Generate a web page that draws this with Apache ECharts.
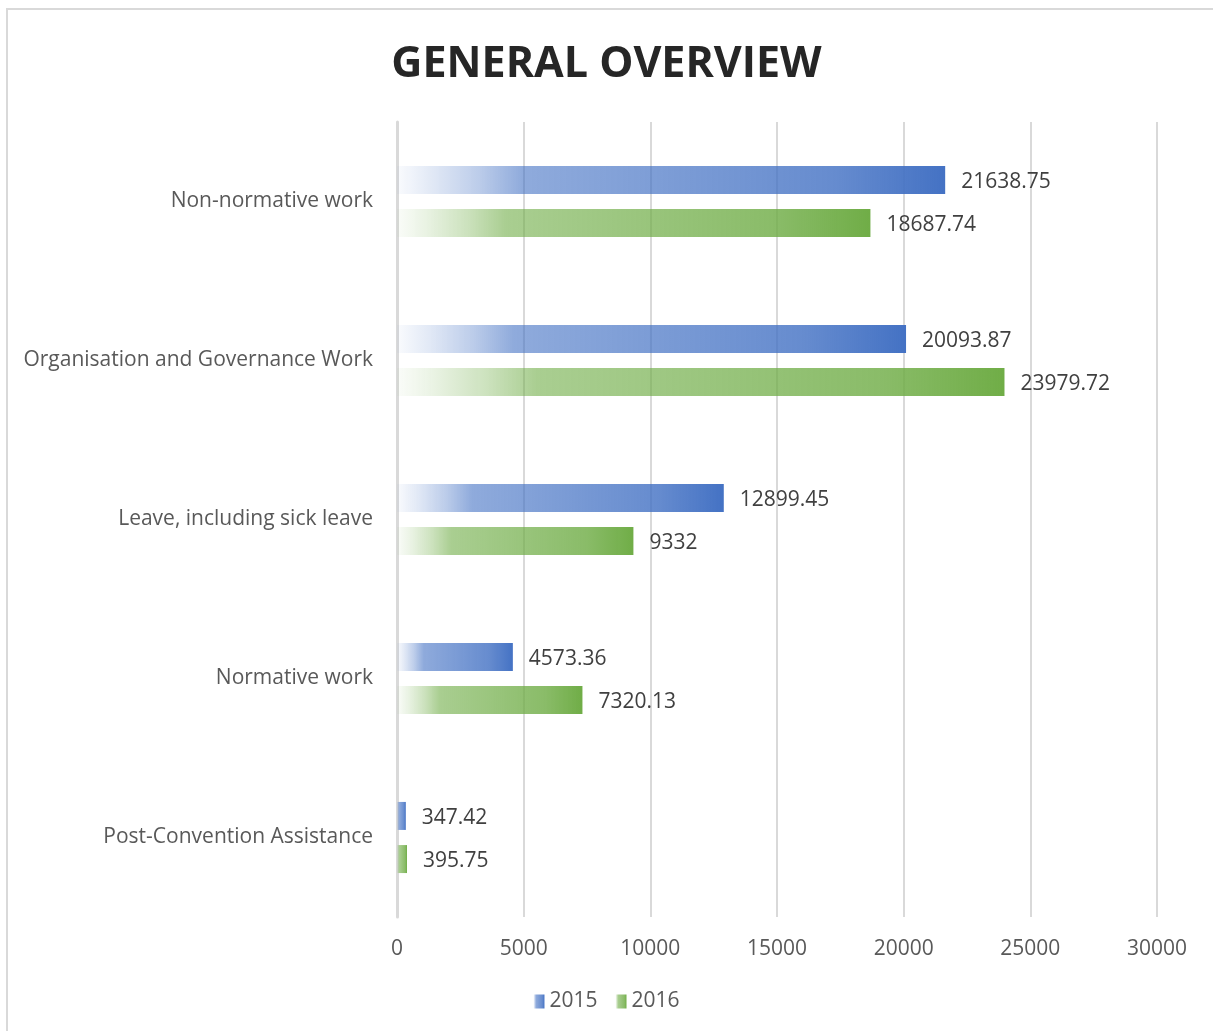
<!DOCTYPE html>
<html>
<head>
<meta charset="utf-8">
<script src="https://cdn.jsdelivr.net/npm/echarts@6/dist/echarts.min.js"></script>
<style>html,body{margin:0;padding:0;background:#fff;}#c{width:1213px;height:1031px;}</style>
</head>
<body>
<div id="c"></div>
<script>
const categories = ['Non-normative work','Organisation and Governance Work','Leave, including sick leave','Normative work','Post-Convention Assistance'];
const seriesNames = ['2015','2016'];
const values2015 = [21638.75, 20093.87, 12899.45, 4573.36, 347.42];
const values2016 = [18687.74, 23979.72, 9332, 7320.13, 395.75];
const xTicks = {min: 0, max: 30000, interval: 5000};

function grad(r,g,b){
  const a = [[0,0.03],[0.06,0.15],[0.15,0.36],[0.23,0.6],[0.5,0.7],[0.8,0.82],[1,1]];
  return new echarts.graphic.LinearGradient(0,0,1,0,a.map(s=>({offset:s[0],color:`rgba(${r},${g},${b},${s[1]})`})));
}
const FONT = 'Open Sans';
const FS = 21;
const chart = echarts.init(document.getElementById('c'));
const labelStyle = {show:true, position:'right', distance:16, offset:[0,2], color:'#404040', fontSize:FS, fontFamily:FONT};
chart.setOption({
  animation:false,
  graphic:[{type:'rect', shape:{x:7,y:9,width:1240,height:1060}, style:{fill:'none', stroke:'#d9d9d9', lineWidth:2}, silent:true}],
  title:{text:'GENERAL OVERVIEW', left:'center', top:38, textStyle:{fontFamily:'Open Sans', fontWeight:'bold', fontSize:43, color:'#262626'}},
  legend:{bottom:14, left:'center', itemWidth:11, itemHeight:14, itemGap:18, icon:'rect',
    textStyle:{fontFamily:FONT, fontSize:FS, color:'#595959'}, data:seriesNames},
  grid:{left:397, right:56, top:122, bottom:114, containLabel:false},
  xAxis:{type:'value', min:xTicks.min, max:xTicks.max, interval:xTicks.interval,
    axisLine:{show:false}, axisTick:{show:false},
    axisLabel:{color:'#595959', fontSize:FS, fontFamily:FONT, margin:22, formatter:v=>String(v)},
    splitLine:{lineStyle:{color:'#d9d9d9', width:2}}},
  yAxis:{type:'category', inverse:true, data:categories,
    axisLine:{lineStyle:{color:'#d9d9d9', width:3}}, axisTick:{show:false},
    axisLabel:{color:'#595959', fontSize:FS, fontFamily:FONT, margin:24, padding:[2,0,0,0]}},
  series:[
    {name:seriesNames[0], type:'bar', data:values2015, barWidth:28, barGap:'54%', itemStyle:{color:grad(68,114,196)}, label:labelStyle},
    {name:seriesNames[1], type:'bar', data:values2016, barWidth:28, barGap:'54%', itemStyle:{color:grad(112,173,71)}, label:labelStyle}
  ]
});
</script>
</body>
</html>
